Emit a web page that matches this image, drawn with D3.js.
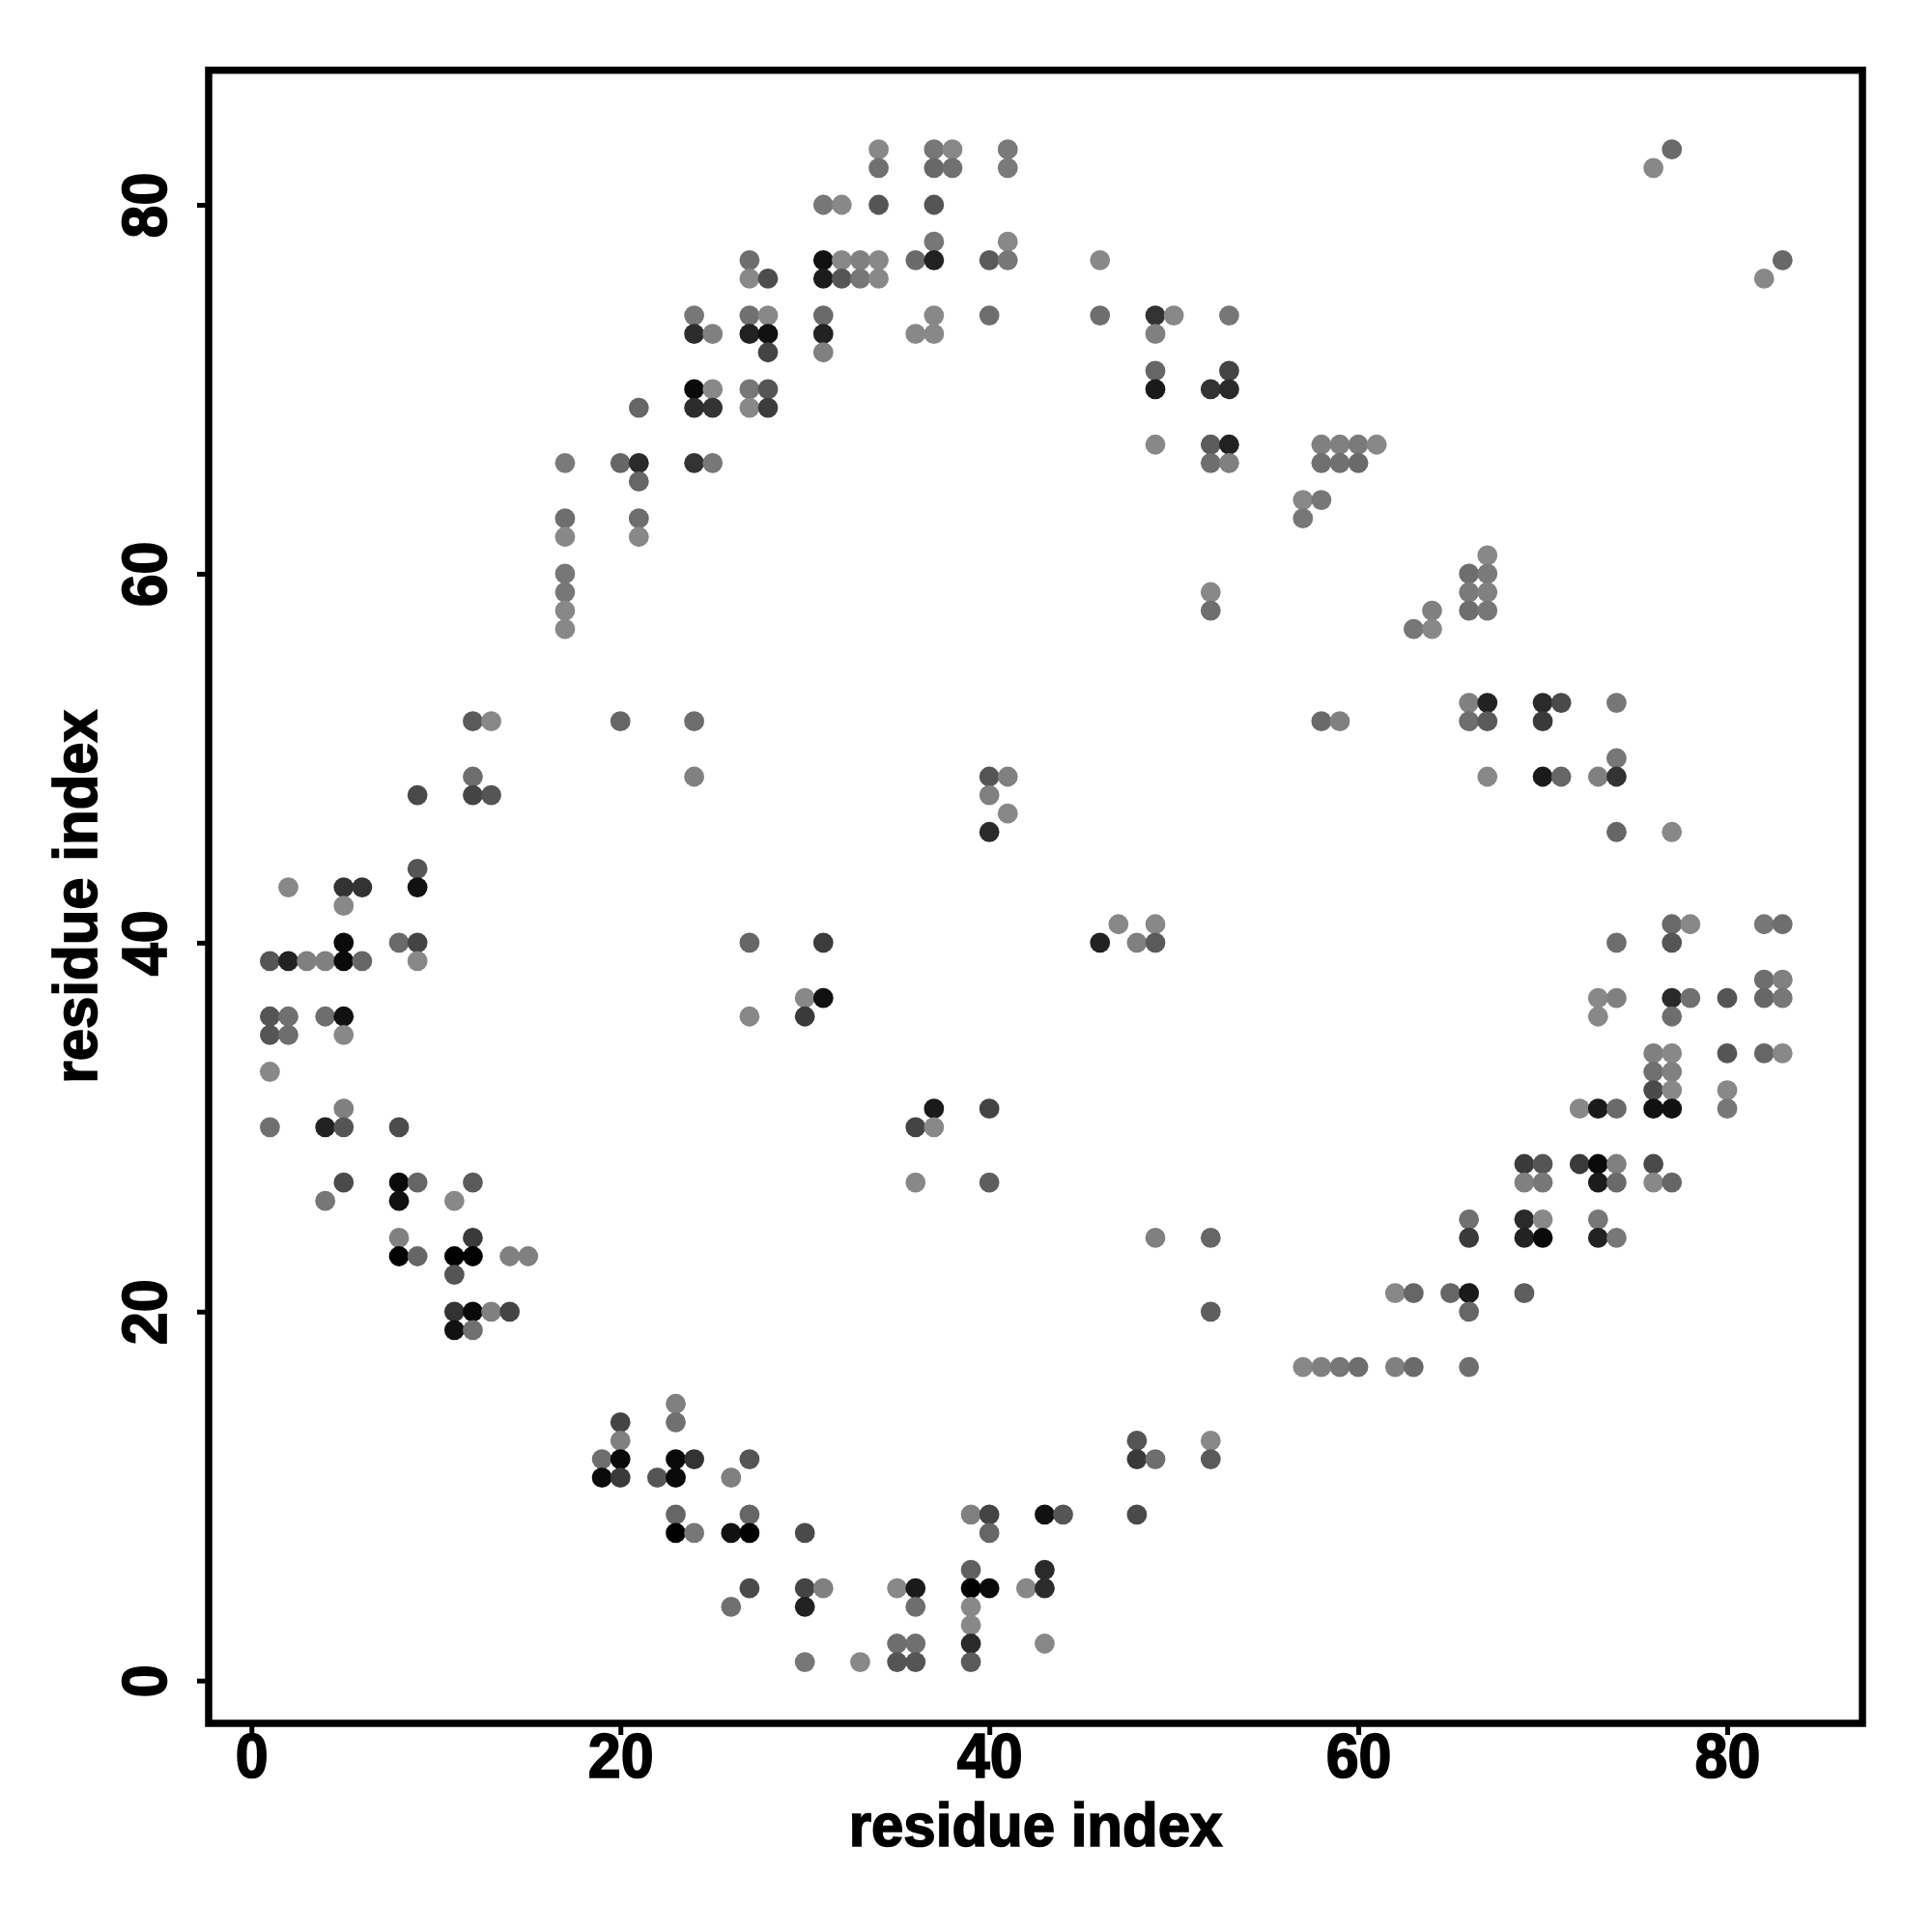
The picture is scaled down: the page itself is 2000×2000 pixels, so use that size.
<!DOCTYPE html>
<html><head><meta charset="utf-8">
<script src="https://cdn.jsdelivr.net/npm/d3@7"></script>
<style>html,body{margin:0;padding:0;background:#fff}svg{display:block}</style>
</head><body><svg id="c" width="2000" height="2000"></svg>
<script>
const tickValues = [0, 20, 40, 60, 80];
const axisTitle = "residue index";
const rowY = [83,82,80,78,77,76,74,73,72,71,70,69,67,66,65,64,63,62,61,60,59,58,57,53,52,50,49,48,47,46,44,43,42,41,40,39,38,37,36,35,34,33,32,31,30,28,27,26,25,24,23,22,21,20,19,17,15,14,13,12,11,9,8,6,5,4,3,2,1];
const rowX = [
[34,37,38,41,77],
[34,37,38,41,76],
[31,32,34,37],
[37,41],
[27,31,32,33,34,36,37,40,41,46,83],
[27,28,31,32,33,34,82],
[24,27,28,31,37,40,46,49,50,53],
[24,25,27,28,31,36,37,49],
[28,31],
[49,53],
[24,25,27,28,49,52,53],
[21,24,25,27,28],
[49,52,53,58,59,60,61],
[17,20,21,24,25,52,53,58,59,60],
[21],
[57,58],
[17,21,57],
[17,21],
[67],
[17,66,67],
[17,52,66,67],
[17,52,64,66,67],
[17,63,64],
[66,67,70,71,74],
[12,13,20,24,58,59,66,67,70],
[74],
[12,24,40,41,67,70,71,73,74],
[9,12,13,40],
[41],
[40,74,77],
[9],
[2,5,6,9],
[5],
[47,49,77,78,82,83],
[5,8,9,27,31,46,48,49,74,77],
[1,2,3,4,5,6,9],
[82,83],
[30,31,73,74,77,78,80,82,83],
[1,2,4,5,27,30,73,77],
[1,2,5],
[76,77,80,82,83],
[1,76,77],
[76,77,80],
[5,37,40,72,73,74,76,77,80],
[1,4,5,8,36,37],
[69,70,72,73,74,76],
[5,8,9,12,36,40,69,70,73,74,76,77],
[4,8,11],
[66,69,70,73],
[8,12,49,52,66,69,70,73,74],
[8,9,11,12,14,15],
[11],
[62,63,65,66,69],
[11,12,13,14,52,66],
[11,12],
[57,58,59,60,62,63,66],
[23],
[20,23],
[20,48,52],
[19,20,23,24,27,48,49,52],
[19,20,22,23,26],
[23,27,39,40,43,44,48],
[23,24,26,27,30,40],
[39,43],
[27,30,31,35,36,39,40,42,43],
[26,30,36,39],
[39],
[35,36,39,43],
[30,33,35,36,39]
];
const rowGray = [
[136,119,136,122,106],
[112,104,112,122,136],
[119,136,85,85],
[119,136],
[110,17,136,128,136,106,34,90,119,136,104],
[136,76,28,85,119,136,136],
[119,112,136,106,136,110,110,51,136,119],
[44,128,34,17,34,136,136,128],
[68,128],
[102,68],
[10,136,119,85,26,51,42],
[102,44,51,136,60],
[136,92,34,128,128,122,136],
[122,102,42,51,119,110,128,112,112,106],
[102],
[136,119],
[110,110,119],
[136,136],
[136],
[119,110,122],
[119,136,122,128],
[136,110,128,110,119],
[136,119,136],
[128,34,42,74,119],
[90,136,102,110,106,128,110,90,58],
[119],
[110,128,85,128,136,26,102,128,51],
[74,68,85,128],
[136],
[42,102,136],
[85],
[136,51,51,17],
[136],
[136,136,106,136,119,110],
[10,106,68,102,60,34,128,90,110,85],
[85,34,128,128,10,102,136],
[110,128],
[136,17,136,128,42,112,85,102,119],
[85,112,110,17,136,58,136,110],
[85,110,136],
[128,136,85,102,136],
[136,112,128],
[74,136,136],
[128,26,68,136,26,106,17,17,119],
[112,34,85,76,68,136],
[58,85,58,10,128,74],
[74,10,102,90,136,94,128,119,28,106,136,102],
[119,17,136],
[112,42,136,119],
[128,58,128,102,58,34,10,34,119],
[0,102,0,0,128,128],
[85],
[136,102,102,26,94],
[51,10,128,68,94,102],
[17,112],
[136,128,119,110,128,106,110],
[128],
[68,112],
[128,85,136],
[110,10,10,51,85,58,110,90],
[10,58,85,10,128],
[102,102,128,68,17,85,74],
[0,119,17,0,74,102],
[96,42],
[74,68,128,136,26,0,10,136,44],
[112,34,110,136],
[136],
[110,112,42,136],
[119,136,85,85,90]
];

const points = rowY.flatMap((y, r) => rowX[r].map((x, k) => ({x, y, g: rowGray[r][k]})));

const svg = d3.select("#c");
const xScale = d3.scaleLinear().domain([0, 80]).range([260.3, 1788]);
const yScale = d3.scaleLinear().domain([0, 80]).range([1739.7, 212]);
const frame = {left: 216, right: 1928, top: 72.7, bottom: 1784};
const font = "'Liberation Sans', Arial, sans-serif";
const tall = 1.07;
const heavy = 1.6;

svg.append("g").selectAll("circle").data(points).join("circle")
  .attr("cx", d => xScale(d.x))
  .attr("cy", d => yScale(d.y))
  .attr("r", 10.4)
  .attr("fill", d => d3.rgb(d.g, d.g, d.g).formatHex());

const xAxis = svg.append("g").attr("transform", `translate(0,${frame.bottom})`)
  .call(d3.axisBottom(xScale).tickValues(tickValues).tickSize(12).tickFormat(d3.format("d")));
const yAxis = svg.append("g").attr("transform", `translate(${frame.left},0)`)
  .call(d3.axisLeft(yScale).tickValues(tickValues).tickSize(12).tickFormat(d3.format("d")));
[xAxis, yAxis].forEach(a => {
  a.select(".domain").remove();
  a.selectAll("line").attr("stroke", "#000").attr("stroke-width", 5);
  a.selectAll("text").attr("font-family", font).attr("font-weight", "bold").attr("font-size", 61).attr("fill", "#000")
    .attr("stroke", "#000").attr("stroke-width", heavy)
    .attr("text-anchor", "middle").attr("dy", null).attr("x", 0).attr("y", 0);
});
xAxis.selectAll("text").attr("transform", `translate(0,${1840 - frame.bottom}) scale(1,${tall})`);
yAxis.selectAll("text").attr("transform", `translate(${172 - frame.left},0) rotate(-90) scale(1,${tall})`);

svg.append("rect")
  .attr("x", frame.left).attr("y", frame.top)
  .attr("width", frame.right - frame.left).attr("height", frame.bottom - frame.top)
  .attr("fill", "none").attr("stroke", "#000").attr("stroke-width", 7.5);

svg.append("text").text(axisTitle)
  .attr("text-anchor", "middle").attr("font-family", font).attr("font-weight", "bold").attr("font-size", 60)
  .attr("stroke", "#000").attr("stroke-width", heavy)
  .attr("transform", `translate(${(frame.left + frame.right) / 2},1911) scale(1,1.05)`);
svg.append("text").text(axisTitle)
  .attr("text-anchor", "middle").attr("font-family", font).attr("font-weight", "bold").attr("font-size", 60)
  .attr("stroke", "#000").attr("stroke-width", heavy)
  .attr("transform", `translate(100,${(frame.top + frame.bottom) / 2}) rotate(-90) scale(1,1.05)`);
</script></body></html>
